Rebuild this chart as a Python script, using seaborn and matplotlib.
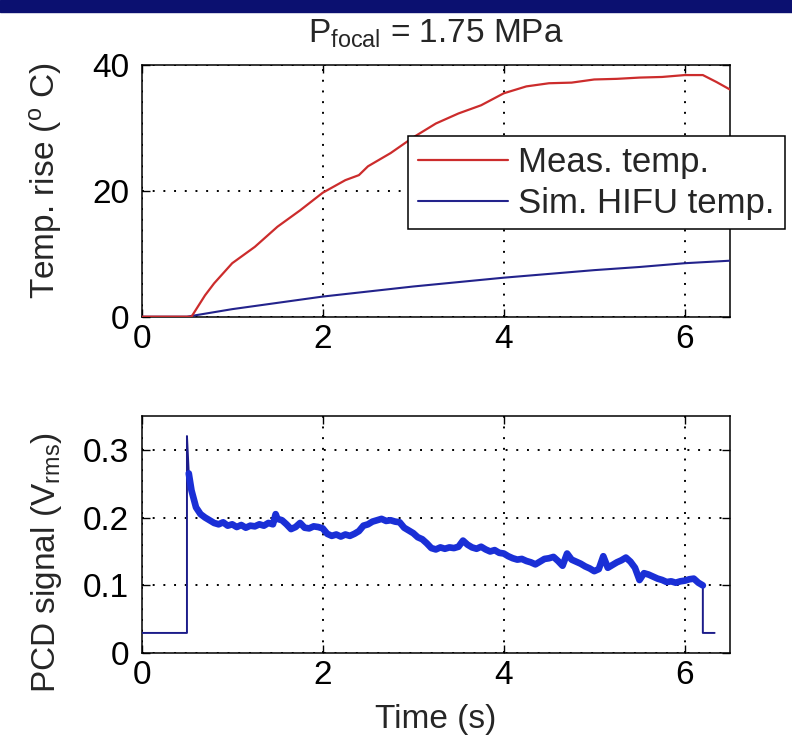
import numpy as np
import pandas as pd
import matplotlib
matplotlib.use("Agg")
import matplotlib.pyplot as plt
import seaborn as sns
from matplotlib.patches import Rectangle

# measured temperature rise (deg C) at the focus
meas_time = [0, 0.55, 0.7, 0.8, 1.0, 1.25, 1.5, 1.75, 2.0, 2.25, 2.4, 2.5, 2.75,
             3.0, 3.25, 3.5, 3.75, 4.0, 4.25, 4.5, 4.75, 5.0, 5.25, 5.5, 5.75,
             6.0, 6.2, 6.35, 6.5]
meas_temp = [0, 0, 3.4, 5.3, 8.5, 11.1, 14.3, 16.9, 19.7, 21.7, 22.5, 23.9, 26.0,
             28.5, 30.7, 32.3, 33.6, 35.5, 36.6, 37.1, 37.2, 37.7, 37.8, 38.0, 38.1,
             38.4, 38.4, 37.3, 36.1]

# simulated HIFU temperature rise
sim_time = [0, 0.5, 1.0, 1.5, 2.0, 2.5, 3.0, 3.5, 4.0, 4.5, 5.0, 5.5, 6.0, 6.5]
sim_temp = [0, 0, 1.2, 2.2, 3.2, 4.0, 4.8, 5.5, 6.2, 6.8, 7.4, 7.9, 8.5, 8.9]

# PCD signal (V rms)
pcd_time = [0, 0.5, 0.5, 0.52, 0.55, 0.6, 0.65, 0.7, 0.75, 0.8, 0.85, 0.9, 0.95,
            1.0, 1.05, 1.1, 1.15, 1.2, 1.25, 1.3, 1.35, 1.4, 1.45, 1.48, 1.5,
            1.55, 1.6, 1.65, 1.7, 1.75, 1.8, 1.85, 1.9, 1.95, 2.0, 2.05, 2.1,
            2.15, 2.2, 2.25, 2.3, 2.35, 2.4, 2.45, 2.5, 2.55, 2.6, 2.65, 2.7,
            2.75, 2.8, 2.85, 2.9, 2.95, 3.0, 3.05, 3.1, 3.15, 3.2, 3.25, 3.3,
            3.35, 3.4, 3.45, 3.5, 3.55, 3.6, 3.65, 3.7, 3.75, 3.8, 3.85, 3.9,
            3.95, 4.0, 4.05, 4.1, 4.15, 4.2, 4.25, 4.3, 4.35, 4.4, 4.45, 4.5,
            4.55, 4.6, 4.65, 4.7, 4.75, 4.8, 4.85, 4.9, 4.95, 5.0, 5.05, 5.1,
            5.15, 5.2, 5.25, 5.3, 5.35, 5.4, 5.45, 5.5, 5.55, 5.6, 5.65, 5.7,
            5.75, 5.8, 5.85, 5.9, 5.95, 6.0, 6.05, 6.1, 6.15, 6.2, 6.2, 6.33]
pcd_value = [0.03, 0.03, 0.32, 0.265, 0.24, 0.215, 0.205, 0.2, 0.196, 0.192, 0.19,
             0.193, 0.188, 0.19, 0.186, 0.189, 0.185, 0.188, 0.187, 0.19, 0.188,
             0.192, 0.19, 0.205, 0.198, 0.196, 0.19, 0.183, 0.186, 0.192, 0.185,
             0.184, 0.187, 0.186, 0.184, 0.176, 0.173, 0.175, 0.172, 0.175, 0.173,
             0.176, 0.18, 0.188, 0.19, 0.194, 0.196, 0.198, 0.195, 0.196, 0.194,
             0.193, 0.185, 0.181, 0.177, 0.171, 0.168, 0.162, 0.155, 0.153, 0.156,
             0.154, 0.156, 0.155, 0.157, 0.166, 0.16, 0.156, 0.154, 0.157, 0.153,
             0.15, 0.152, 0.148, 0.147, 0.143, 0.14, 0.138, 0.139, 0.136, 0.134,
             0.131, 0.135, 0.139, 0.14, 0.142, 0.136, 0.129, 0.147, 0.138, 0.135,
             0.132, 0.128, 0.125, 0.121, 0.124, 0.143, 0.126, 0.13, 0.134, 0.137,
             0.141, 0.135, 0.126, 0.108, 0.118, 0.116, 0.113, 0.11, 0.108, 0.105,
             0.106, 0.104, 0.106, 0.107, 0.109, 0.11, 0.104, 0.1, 0.03, 0.03]

x_ticks = [0, 2, 4, 6]
temp_ticks = [0, 20, 40]
pcd_ticks = [0, 0.1, 0.2, 0.3]
pcd_tick_labels = ["0", "0.1", "0.2", "0.3"]

sns.set_theme(style="ticks")
plt.rcParams["font.family"] = ["Liberation Sans", "DejaVu Sans"]
plt.rcParams["mathtext.default"] = "regular"
plt.rcParams["axes.linewidth"] = 1.1

FS = 24
W, H = 792, 743
fig = plt.figure(figsize=(W / 100, H / 100), dpi=100)
fig.patch.set_facecolor("white")
fig.patches.append(Rectangle((0, 1 - 12 / H), 1, 12 / H, transform=fig.transFigure,
                             color="#0b1070", zorder=10))

ax1 = fig.add_axes([141.7 / W, 1 - 316.7 / H, 588.3 / W, 251.7 / H])
ax2 = fig.add_axes([141.7 / W, 1 - 653.3 / H, 588.3 / W, 237.6 / H])

meas = pd.DataFrame({"t": meas_time, "T": meas_temp})
sim = pd.DataFrame({"t": sim_time, "T": sim_temp})
pcd = pd.DataFrame({"t": pcd_time, "v": pcd_value})

sns.lineplot(data=sim, x="t", y="T", ax=ax1, color="#23238c", lw=1.5,
             label="Sim. HIFU temp.", zorder=3)
sns.lineplot(data=meas, x="t", y="T", ax=ax1, color="#cc2c2c", lw=1.6,
             label="Meas. temp.", zorder=4, sort=False)

# thin baseline / trigger steps, then the thick active part
sns.lineplot(data=pcd, x="t", y="v", ax=ax2, color="#1c1c8a", lw=1.4,
             sort=False, estimator=None, zorder=3)
active = pcd[(pcd.t > 0.5) & (pcd.t <= 6.2) & (pcd.v > 0.05)]
sns.lineplot(data=active, x="t", y="v", ax=ax2, color="#1a2fd6", lw=4.8,
             sort=False, estimator=None, zorder=4)

for ax in (ax1, ax2):
    ax.set_xlim(0, 6.5)
    ax.set_xticks(x_ticks)
    ax.grid(True, color="black", linestyle=(0, (1, 4.5)), linewidth=1.4)
    ax.tick_params(direction="in", length=6, width=1, top=True, right=True,
                   labelsize=FS, colors="black", pad=5)
    ax.tick_params(axis="y", pad=9)
    for s in ax.spines.values():
        s.set_color("black")
    ax.set_xlabel("")
    ax.set_ylabel("")

ax1.set_ylim(0, 40)
ax1.set_yticks(temp_ticks)
ax2.set_ylim(0, 0.35)
ax2.set_yticks(pcd_ticks)
ax2.set_yticklabels(pcd_tick_labels)

ax1.set_title(r"P$_{focal}$ = 1.75 MPa", fontsize=FS, pad=16)
ax1.set_ylabel(r"Temp. rise ($^{o}$ C)", fontsize=FS)
ax1.yaxis.set_label_coords(-0.132, 0.54)
ax2.set_ylabel(r"PCD signal (V$_{rms}$)", fontsize=FS)
ax2.yaxis.set_label_coords(-0.132, 0.38)
ax2.set_xlabel("Time (s)", fontsize=FS)
ax2.xaxis.set_label_coords(0.5, -0.215)

h, l = ax1.get_legend_handles_labels()
leg = ax1.legend(h[::-1], l[::-1], loc="upper left",
                 bbox_to_anchor=(408 / W, 1 - 136 / H), bbox_transform=fig.transFigure,
                 borderaxespad=0, fontsize=25, frameon=True, fancybox=False,
                 framealpha=1, edgecolor="black", handlelength=2.6,
                 handletextpad=0.3, labelspacing=0.23, borderpad=0.28)
leg.get_frame().set_linewidth(1.1)
leg.set_zorder(20)

fig.savefig("out.png", dpi=100)
